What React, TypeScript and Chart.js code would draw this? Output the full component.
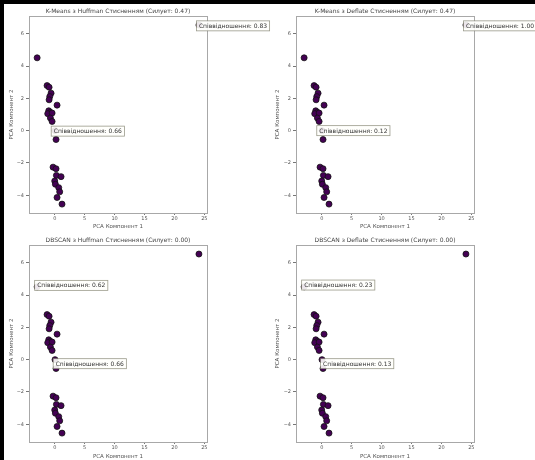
import React, { useEffect, useRef } from 'react';
import { Chart, registerables } from 'chart.js';

Chart.register(...registerables);

// ---- data ----
const pcaX = [-2.94, -1.28, -0.94, -0.61, -0.83, -0.94, 0.39, -1.0, -0.72, -1.17, -0.44, -0.72, -0.44, 0.05, 0.22, -0.28, 0.22, 0.28, 1.06, 0.0, 0.11, 0.67, 0.83, 0.39, 1.22, 24.1];
const pcaY = [4.51, 2.79, 2.69, 2.32, 2.11, 1.91, 1.58, 1.23, 1.13, 1.05, 1.09, 0.78, 0.57, 0.0, -0.55, -2.26, -2.36, -2.77, -2.85, -3.12, -3.32, -3.53, -3.79, -4.14, -4.55, 6.54];

const xTicks = [0, 5, 10, 15, 20, 25];
const yTicks = [-4, -2, 0, 2, 4, 6];
const xLimits = [-4.3, 25.45];
const yLimits = [-5.1, 7.1];

const titles = [
  'K-Means з Huffman Стисненням (Силует: 0.47)',
  'K-Means з Deflate Стисненням (Силует: 0.47)',
  'DBSCAN з Huffman Стисненням (Силует: 0.00)',
  'DBSCAN з Deflate Стисненням (Силует: 0.00)',
];
const xAxisLabel = 'PCA Компонент 1';
const yAxisLabel = 'PCA Компонент 2';
const ratioLabel = 'Співвідношення';
const ratioValues = [
  [0.83, 0.66],
  [1.0, 0.12],
  [0.62, 0.66],
  [0.23, 0.13],
];
// text anchor of each annotation (data coordinates)
const annotX = [
  [24.1, -0.17],
  [24.1, -0.41],
  [-2.94, 0.16],
  [-2.94, 0.23],
];
const annotY = [
  [6.49, -0.03],
  [6.49, 0.0],
  [4.6, -0.25],
  [4.62, -0.25],
];

const FONT = 'DejaVu Sans';

type Layout = {
  left: number;
  top: number;
  width: number;
  height: number;
  padLeft: number;
  padTop: number;
  padRight: number;
  yAxisW: number;
  xAxisH: number;
};

const layouts: Layout[] = [
  { left: 0, top: 0, width: 296, height: 230, padLeft: 6, padTop: 16, padRight: 89, yAxisW: 23, xAxisH: 17 },
  { left: 267, top: 0, width: 268, height: 230, padLeft: 5, padTop: 16, padRight: 61, yAxisW: 24, xAxisH: 17 },
  { left: 0, top: 230, width: 296, height: 230, padLeft: 6, padTop: 15, padRight: 89, yAxisW: 23, xAxisH: 18 },
  { left: 267, top: 230, width: 268, height: 230, padLeft: 5, padTop: 15, padRight: 61, yAxisW: 24, xAxisH: 18 },
];

const fmtTick = (v: any) => {
  const n = Number(v);
  return n < 0 ? '\u2212' + String(-n) : String(n);
};

function Subplot({ index }: { index: number }) {
  const ref = useRef<HTMLCanvasElement | null>(null);
  const L = layouts[index];

  useEffect(() => {
    if (!ref.current) return;
    const decor = {
      id: 'decor' + index,
      afterDatasetsDraw(chart: any) {
        const { ctx, chartArea } = chart;
        const xs = chart.scales.x;
        const ys = chart.scales.y;
        ctx.save();
        // frame
        ctx.strokeStyle = '#a8a8a8';
        ctx.lineWidth = 1;
        ctx.strokeRect(
          Math.round(chartArea.left) + 0.5,
          Math.round(chartArea.top) + 0.5,
          Math.round(chartArea.right - chartArea.left),
          Math.round(chartArea.bottom - chartArea.top)
        );
        // title
        ctx.fillStyle = '#444';
        ctx.font = `6px "${FONT}"`;
        ctx.textAlign = 'center';
        ctx.textBaseline = 'middle';
        ctx.fillText(titles[index], (chartArea.left + chartArea.right) / 2, chartArea.top - 5);
        // annotations
        ctx.font = `6px "${FONT}"`;
        ctx.textAlign = 'left';
        for (let k = 0; k < ratioValues[index].length; k++) {
          const px = xs.getPixelForValue(annotX[index][k]);
          const py = ys.getPixelForValue(annotY[index][k]);
          const text = `${ratioLabel}: ${ratioValues[index][k].toFixed(2)}`;
          const w = ctx.measureText(text).width + 5;
          const bx = px - 2.5;
          ctx.fillStyle = 'rgba(255,255,252,0.9)';
          ctx.fillRect(bx, py - 5, w, 10);
          ctx.strokeStyle = 'rgba(120,120,100,0.75)';
          ctx.lineWidth = 0.8;
          ctx.strokeRect(bx, py - 5, w, 10);
          ctx.fillStyle = '#333';
          ctx.fillText(text, px, py + 0.5);
        }
        ctx.restore();
      },
    };

    const chart = new Chart(ref.current, {
      type: 'scatter',
      data: {
        datasets: [
          {
            data: pcaX.map((x, i) => ({ x, y: pcaY[i] })),
            backgroundColor: '#440154',
            borderColor: '#111',
            borderWidth: 0.8,
            pointRadius: 3,
          },
        ],
      },
      options: {
        animation: false,
        responsive: false,
        maintainAspectRatio: false,
        events: [],
        layout: { padding: { left: L.padLeft, top: L.padTop, right: L.padRight, bottom: 0 } },
        plugins: { legend: { display: false }, tooltip: { enabled: false }, title: { display: false } },
        scales: {
          x: {
            type: 'linear',
            min: xLimits[0],
            max: xLimits[1],
            afterBuildTicks: (s: any) => {
              s.ticks = xTicks.map((v) => ({ value: v }));
            },
            afterFit: (s: any) => {
              s.height = L.xAxisH;
            },
            grid: { drawOnChartArea: false, tickLength: 2, color: '#777', tickColor: '#777' },
            border: { display: false },
            ticks: {
              font: { size: 5, family: FONT },
              color: '#555',
              padding: 1,
              maxRotation: 0,
              autoSkip: false,
              callback: fmtTick,
            },
            title: {
              display: true,
              text: xAxisLabel,
              font: { size: 5.5, family: FONT },
              color: '#555',
              padding: { top: 0, bottom: 0 },
            },
          },
          y: {
            type: 'linear',
            min: yLimits[0],
            max: yLimits[1],
            afterBuildTicks: (s: any) => {
              s.ticks = yTicks.map((v) => ({ value: v }));
            },
            afterFit: (s: any) => {
              s.width = L.yAxisW;
            },
            grid: { drawOnChartArea: false, tickLength: 3, color: '#777', tickColor: '#777' },
            border: { display: false },
            ticks: {
              font: { size: 5, family: FONT },
              color: '#555',
              padding: 2,
              autoSkip: false,
              callback: fmtTick,
            },
            title: {
              display: true,
              text: yAxisLabel,
              font: { size: 5.5, family: FONT },
              color: '#555',
              padding: { top: 2, bottom: 0 },
            },
          },
        },
      },
      plugins: [decor],
    } as any);
    return () => chart.destroy();
  }, [index]);

  return (
    <canvas
      ref={ref}
      width={L.width}
      height={L.height}
      style={{ position: 'absolute', left: L.left, top: L.top, width: L.width, height: L.height }}
    />
  );
}

export default function App() {
  return (
    <div
      style={{
        position: 'fixed',
        left: 0,
        top: 0,
        width: 535,
        height: 460,
        background: '#fff',
        overflow: 'hidden',
      }}
    >
      {[0, 1, 2, 3].map((i) => (
        <Subplot key={i} index={i} />
      ))}
      <div style={{ position: 'absolute', left: 0, top: 0, width: 535, height: 4, background: '#000' }} />
      <div style={{ position: 'absolute', left: 0, top: 0, width: 4, height: 460, background: '#000' }} />
    </div>
  );
}
